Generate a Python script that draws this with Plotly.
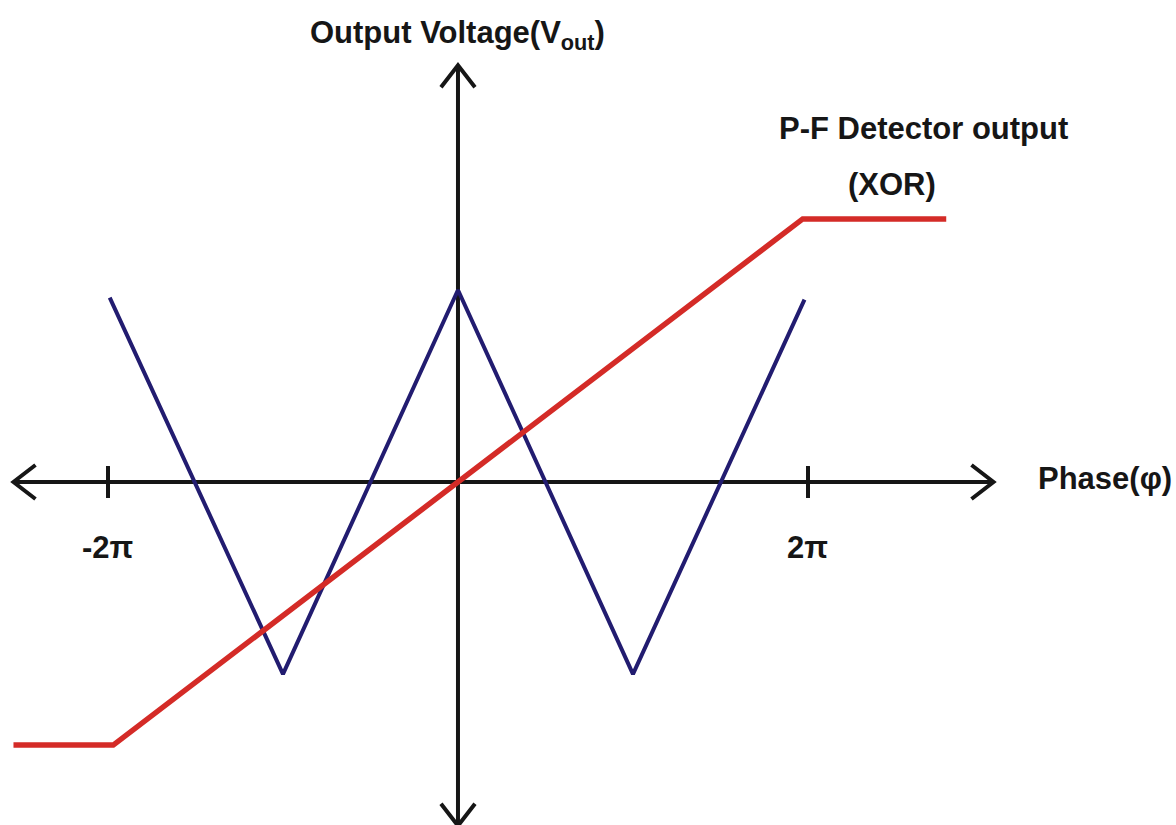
import plotly.graph_objects as go

# Phase axis in units of pi, output voltage in normalised units
xor_phase = [-1.99, -1.0, 0.0, 1.0, 1.98]
xor_vout = [0.96, -1.0, 1.0, -1.0, 0.95]

pfd_phase = [-2.54, -1.97, 1.97, 2.79]
pfd_vout = [-1.37, -1.37, 1.37, 1.37]

tick_pos = [-2, 2]
tick_text = ["-2π", "2π"]

# axis extents (arrow tips)
x_left, x_right = -2.54, 3.06
y_bottom, y_top = -1.79, 2.17

X_RANGE = [-2.617, 4.103]
Y_RANGE = [-1.786, 2.51]
W, H = 1176, 825
ux = (X_RANGE[1] - X_RANGE[0]) / W   # data units per pixel
uy = (Y_RANGE[1] - Y_RANGE[0]) / H

FONT = "Liberation Sans Narrow, Arial Narrow, Liberation Sans, Arial, sans-serif"
FS = 31
AXC = "#161616"

fig = go.Figure()

fig.add_trace(go.Scatter(x=xor_phase, y=xor_vout, mode="lines",
                         line=dict(color="#221c70", width=4), hoverinfo="skip"))
fig.add_trace(go.Scatter(x=pfd_phase, y=pfd_vout, mode="lines",
                         line=dict(color="#d42b27", width=5.5), hoverinfo="skip"))

shapes = []
ax_line = dict(color=AXC, width=4)
# horizontal and vertical axes
shapes.append(dict(type="line", x0=x_left, x1=x_right, y0=0, y1=0, line=ax_line, layer="below"))
shapes.append(dict(type="line", x0=0, x1=0, y0=y_bottom, y1=y_top, line=ax_line, layer="below"))

# open chevron arrow heads
along, across = 22, 17
def chevron(tx, ty, dx, dy):
    # dx, dy: unit direction of the arrow in pixel space
    bx = tx - dx * along * ux
    by = ty - dy * along * uy
    px, py = -dy, dx
    p1 = (bx + px * across * ux, by + py * across * uy)
    p2 = (bx - px * across * ux, by - py * across * uy)
    path = f"M {p1[0]},{p1[1]} L {tx},{ty} L {p2[0]},{p2[1]}"
    return dict(type="path", path=path, line=dict(color=AXC, width=4))

shapes.append(chevron(x_right, 0, 1, 0))
shapes.append(chevron(x_left, 0, -1, 0))
shapes.append(chevron(0, y_top, 0, 1))
shapes.append(chevron(0, y_bottom, 0, -1))

# tick marks at +-2pi
for t in tick_pos:
    shapes.append(dict(type="line", x0=t, x1=t, y0=-16 * uy, y1=16 * uy,
                       line=dict(color=AXC, width=4)))

annotations = []
for t, lab in zip(tick_pos, tick_text):
    annotations.append(dict(x=t, y=-65 * uy, text=f"<b>{lab}</b>", showarrow=False,
                            font=dict(family=FONT, size=FS, color=AXC),
                            xanchor="center", yanchor="middle"))

annotations.append(dict(x=x_right + 43 * ux, y=4 * uy, text="<b>Phase(φ)</b>", showarrow=False,
                        font=dict(family=FONT, size=FS, color=AXC),
                        xanchor="left", yanchor="middle"))
annotations.append(dict(x=0, y=y_top + 30 * uy,
                        text="<b>Output Voltage(V<sub>out</sub>)</b>", showarrow=False,
                        font=dict(family=FONT, size=FS, color=AXC),
                        xanchor="center", yanchor="middle"))
annotations.append(dict(x=2.66, y=1.37 + 90 * uy, text="<b>P-F Detector output</b>",
                        showarrow=False, font=dict(family=FONT, size=FS, color=AXC),
                        xanchor="center", yanchor="middle"))
annotations.append(dict(x=2.48, y=1.37 + 34 * uy, text="<b>(XOR)</b>",
                        showarrow=False, font=dict(family=FONT, size=FS, color=AXC),
                        xanchor="center", yanchor="middle"))

fig.update_layout(
    width=W, height=H,
    margin=dict(l=0, r=0, t=0, b=0),
    paper_bgcolor="white", plot_bgcolor="white",
    showlegend=False,
    xaxis=dict(range=X_RANGE, visible=False, fixedrange=True),
    yaxis=dict(range=Y_RANGE, visible=False, fixedrange=True),
    shapes=shapes, annotations=annotations,
)

fig.write_html("out.html")
